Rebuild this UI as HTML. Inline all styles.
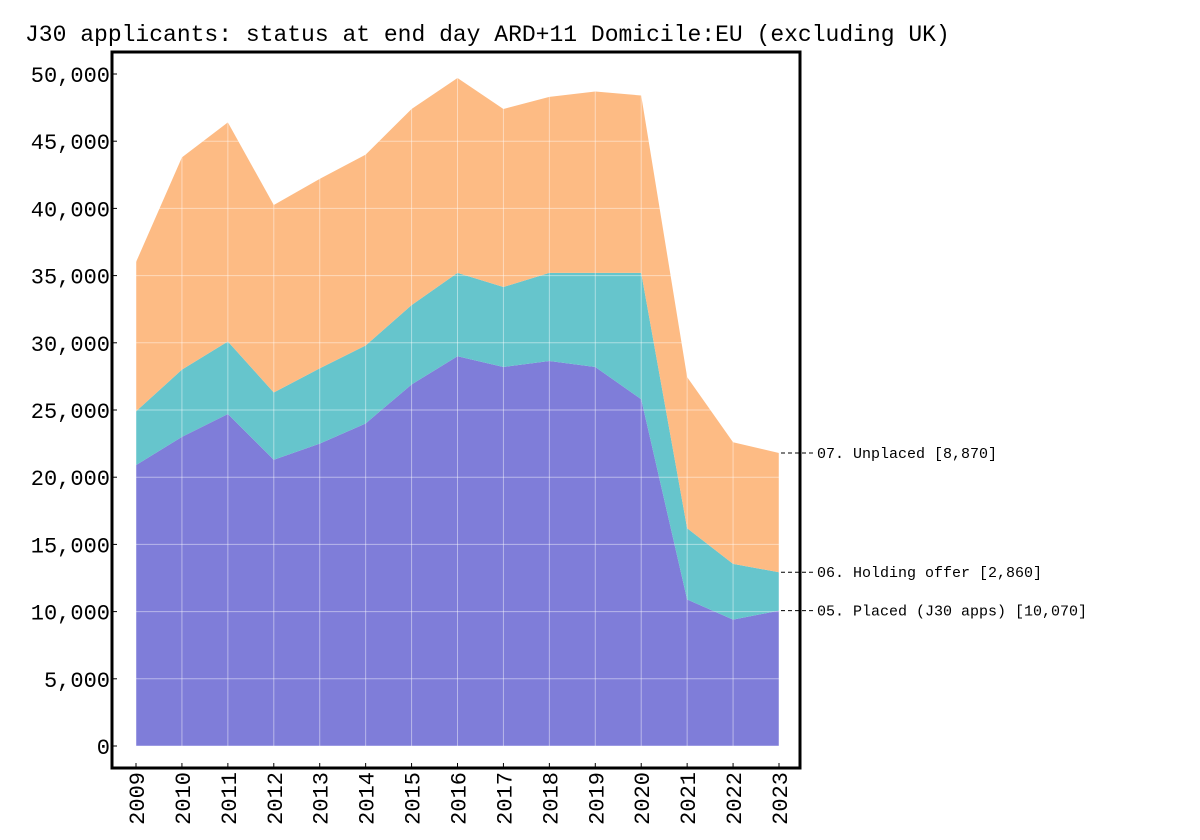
<!DOCTYPE html>
<html><head><meta charset="utf-8"><style>
body{margin:0;background:#fff;}
svg{display:block;font-family:"Liberation Mono",monospace;}
</style></head><body>
<svg id="chart" width="1200" height="840" xmlns="http://www.w3.org/2000/svg">
<text x="25" y="41" font-size="23" fill="#000">J30 applicants: status at end day ARD+11 Domicile:EU (excluding UK)</text>
<g id="areas"></g><g id="grid"></g><g id="axes"></g><g id="labels"></g>
<rect x="112" y="52" width="688" height="716" fill="none" stroke="#000" stroke-width="3"/>
</svg>
<script>
const years=[2009,2010,2011,2012,2013,2014,2015,2016,2017,2018,2019,2020,2021,2022,2023];
const placed=[20900,23000,24700,21300,22500,24000,26900,29000,28200,28650,28200,25800,10900,9400,10070];
const holding=[4000,5000,5400,5000,5600,5800,5900,6200,5950,6550,7000,9400,5300,4150,2860];
const unplaced=[11100,15800,16300,13950,14100,14200,14600,14500,13250,13100,13500,13200,11250,9050,8870];
const yTicks=[0,5000,10000,15000,20000,25000,30000,35000,40000,45000,50000];
const seriesNames=["05. Placed (J30 apps)","06. Holding offer","07. Unplaced"];
const NS="http://www.w3.org/2000/svg";
const x=i=>136+(779-136)*i/(years.length-1);
const y=v=>746-v*(746-74)/50000;
function mk(t,a,p){const e=document.createElementNS(NS,t);for(const k in a)e.setAttribute(k,a[k]);p.appendChild(e);return e;}
const series=[placed,holding,unplaced];
const colors=["#7f7dd9","#66c5cc","#fdbb84"];
const keys=["placed","holding","unplaced"];
let base=years.map(()=>0);
const tops=[];
series.forEach((s,si)=>{
  const top=s.map((v,i)=>base[i]+v);
  let d="M"+top.map((v,i)=>x(i)+","+y(v)).join("L");
  for(let i=years.length-1;i>=0;i--)d+="L"+x(i)+","+y(base[i]);
  const p=mk("path",{d:d+"Z",fill:colors[si]},document.getElementById("areas"));
  
  
  tops.push(top);base=top;
});
const g=document.getElementById("grid"),ax=document.getElementById("axes");
yTicks.forEach(t=>{
  const l=mk("line",{x1:116,x2:797,y1:y(t),y2:y(t),stroke:"#fff","stroke-opacity":"0.45","stroke-width":1},g);
  
  
  mk("line",{x1:112,x2:117,y1:y(t),y2:y(t),stroke:"#000","stroke-width":1},ax);
  const tx=mk("text",{x:110,y:y(t)+8,"font-size":22,"text-anchor":"end",fill:"#000"},ax);
  tx.textContent=t.toLocaleString("en-US");
  
  
});
years.forEach((yr,i)=>{
  const l=mk("line",{x1:x(i),x2:x(i),y1:56,y2:766,stroke:"#fff","stroke-opacity":"0.45","stroke-width":1},g);
  
  
  mk("line",{x1:x(i),x2:x(i),y1:763,y2:768,stroke:"#000","stroke-width":1},ax);
  const tx=mk("text",{x:0,y:0,"font-size":22,"text-anchor":"end",fill:"#000",transform:`translate(${x(i)+8},772) rotate(-90)`},ax);
  tx.textContent=yr;
  
  
});
const lb=document.getElementById("labels");
const last=years.length-1;
series.forEach((s,si)=>{
  const yy=y(tops[si][last]);
  const l=mk("line",{x1:781,x2:815,y1:yy,y2:yy,stroke:"#000","stroke-dasharray":"4,3","stroke-width":1},lb);
  
  
  const tx=mk("text",{x:817,y:yy+5,"font-size":15,fill:"#000"},lb);
  tx.textContent=seriesNames[si]+" ["+s[last].toLocaleString("en-US")+"]";
  
  
});
</script>
</body></html>
